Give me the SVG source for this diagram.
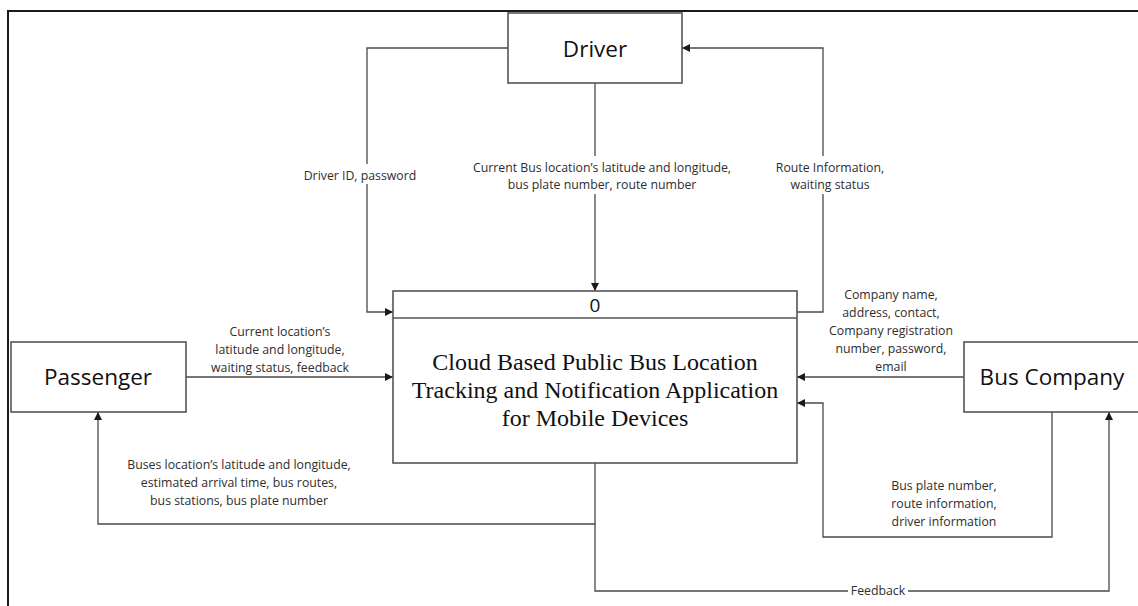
<svg xmlns="http://www.w3.org/2000/svg" width="1138" height="606" viewBox="0 0 1138 606">
  <defs>
    <marker id="arrow" viewBox="0 0 10 10" refX="10" refY="5" markerWidth="8" markerHeight="8" markerUnits="userSpaceOnUse" orient="auto">
      <path d="M0,0 L10,5 L0,10 Z" fill="#1a1a1a"/>
    </marker>
    <style>
      .frame { fill: none; stroke: #1a1a1a; stroke-width: 2; }
      .box { fill: #ffffff; stroke: #555555; stroke-width: 1.6; }
      .flow { fill: none; stroke: #4a4a4a; stroke-width: 1.3; marker-end: url(#arrow); }
      .divider { fill: none; stroke: #555555; stroke-width: 1.6; }
      .mask { fill: #ffffff; }
      .entity { font-family: "Open Sans", "Noto Sans", sans-serif; font-size: 22.5px; fill: #111111; text-anchor: middle; }
      .num { font-family: "Open Sans", "Noto Sans", sans-serif; font-size: 19px; fill: #111111; text-anchor: middle; }
      .proc { font-family: "Liberation Serif", "Times New Roman", serif; font-size: 24px; fill: #111111; text-anchor: middle; }
      .lbl { font-family: "Open Sans", "Noto Sans", sans-serif; font-size: 12.3px; fill: #2e2e2e; text-anchor: middle; }
    </style>
  </defs>

  <rect width="1138" height="606" fill="#ffffff"/>

  <!-- page frame (left and top edges) -->
  <path class="frame" d="M8,606 L8,11 L1138,11"/>

  <!-- data flows -->
  <g id="connectors">
    <path class="flow" d="M508,48 L367,48 L367,312 L393,312"/>
    <path class="flow" d="M595,83 L595,291"/>
    <path class="flow" d="M797,312 L823,312 L823,48 L682,48"/>
    <path class="flow" d="M186,377 L393,377"/>
    <path class="flow" d="M595,463 L595,524 L98,524 L98,412"/>
    <path class="flow" d="M964,377 L797,377"/>
    <path class="flow" d="M1052,412 L1052,537 L823,537 L823,403 L797,403"/>
    <path class="flow" d="M595,524 L595,591 L1109,591 L1109,412"/>

    <!-- label backgrounds interrupting the lines -->
    <rect class="mask" x="298" y="164" width="124" height="20"/>
    <rect class="mask" x="470" y="156" width="266" height="38"/>
    <rect class="mask" x="765" y="156" width="118" height="38"/>
    <rect class="mask" x="848" y="583" width="60" height="16"/>

    <text class="lbl" x="360" y="180">Driver ID, password</text>
    <text class="lbl" x="602" y="172">Current Bus location’s latitude and longitude,</text>
    <text class="lbl" x="602" y="189">bus plate number, route number</text>
    <text class="lbl" x="830" y="172">Route Information,</text>
    <text class="lbl" x="830" y="189">waiting status</text>
    <text class="lbl" x="280" y="336">Current location’s</text>
    <text class="lbl" x="280" y="354">latitude and longitude,</text>
    <text class="lbl" x="280" y="372">waiting status, feedback</text>
    <text class="lbl" x="239" y="469">Buses location’s latitude and longitude,</text>
    <text class="lbl" x="239" y="487">estimated arrival time, bus routes,</text>
    <text class="lbl" x="239" y="505">bus stations, bus plate number</text>
    <text class="lbl" x="891" y="299">Company name,</text>
    <text class="lbl" x="891" y="317">address, contact,</text>
    <text class="lbl" x="891" y="335">Company registration</text>
    <text class="lbl" x="891" y="353">number, password,</text>
    <text class="lbl" x="891" y="371">email</text>
    <text class="lbl" x="944" y="490">Bus plate number,</text>
    <text class="lbl" x="944" y="508">route information,</text>
    <text class="lbl" x="944" y="526">driver information</text>
    <text class="lbl" x="878" y="595">Feedback</text>
  </g>

  <!-- external entities -->
  <g id="driver">
    <rect class="box" x="508" y="13" width="174" height="70"/>
    <text class="entity" x="595" y="57">Driver</text>
  </g>

  <g id="passenger">
    <rect class="box" x="11" y="342" width="175" height="70"/>
    <text class="entity" x="98" y="385">Passenger</text>
  </g>

  <g id="bus-company">
    <rect class="box" x="964" y="342" width="178" height="70"/>
    <text class="entity" x="1052" y="385">Bus Company</text>
  </g>

  <!-- context-level process -->
  <g id="process-0">
    <rect class="box" x="393" y="291" width="404" height="172"/>
    <line class="divider" x1="393" y1="318" x2="797" y2="318"/>
    <text class="num" x="595" y="312">0</text>
    <text class="proc" x="595" y="370">Cloud Based Public Bus Location</text>
    <text class="proc" x="595" y="398">Tracking and Notification Application</text>
    <text class="proc" x="595" y="426">for Mobile Devices</text>
  </g>
</svg>
